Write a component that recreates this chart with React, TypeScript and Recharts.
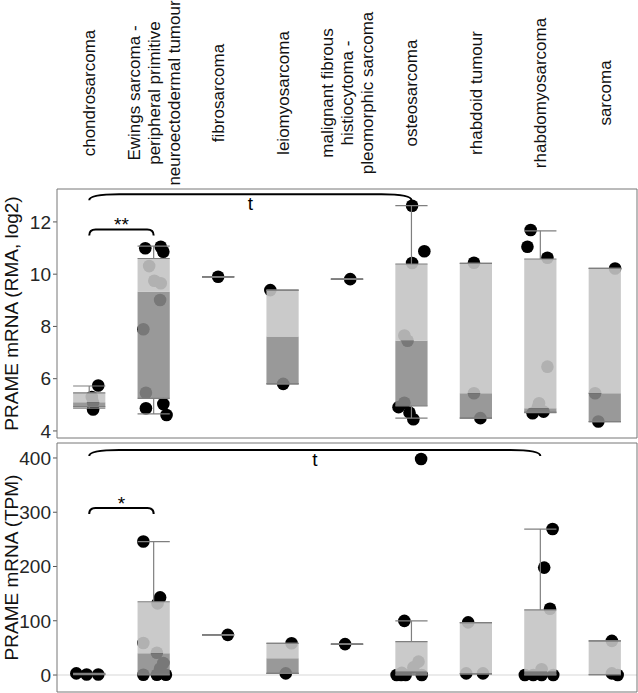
import React from 'react';
import {
  ComposedChart,
  XAxis,
  YAxis,
  Scatter,
  ReferenceArea,
  ReferenceLine,
} from 'recharts';

const categoryLines = [
  ['chondrosarcoma'],
  ['Ewings sarcoma -', 'peripheral primitive', 'neuroectodermal tumour'],
  ['fibrosarcoma'],
  ['leiomyosarcoma'],
  ['malignant fibrous', 'histiocytoma -', 'pleomorphic sarcoma'],
  ['osteosarcoma'],
  ['rhabdoid tumour'],
  ['rhabdomyosarcoma'],
  ['sarcoma'],
];

// top panel: RMA, log2
const rmaLow = [4.87, 4.65, 9.9, 5.8, 9.81, 4.49, 4.49, 4.7, 4.36];
const rmaQ1 = [4.93, 5.25, 9.9, 5.8, 9.81, 4.96, 4.49, 4.72, 4.36];
const rmaMedian = [5.1, 9.33, 9.9, 7.61, 9.81, 7.45, 5.44, 4.87, 5.44];
const rmaQ3 = [5.46, 10.6, 9.9, 9.39, 9.81, 10.39, 10.41, 10.58, 10.22];
const rmaHigh = [5.72, 11.07, 9.9, 9.39, 9.81, 12.62, 10.41, 11.66, 10.22];
// [category, value, jitter]
const rmaPoints = [
  [0, 5.74, 0.14], [0, 4.82, 0.06], [0, 5.3, 0.04], [0, 5.08, 0.06],
  [1, 10.99, -0.13], [1, 11.05, 0.11], [1, 10.86, 0.15], [1, 10.31, -0.07],
  [1, 9.75, 0.01], [1, 9.65, 0.11], [1, 9.01, 0.1], [1, 7.89, -0.16],
  [1, 5.46, -0.12], [1, 4.87, -0.12], [1, 5.03, 0.15], [1, 4.61, 0.2],
  [2, 9.9, 0],
  [3, 9.39, -0.19], [3, 5.8, 0.01],
  [4, 9.81, 0.05],
  [5, 12.62, 0.01], [5, 10.88, 0.2], [5, 10.43, 0.01], [5, 7.65, -0.11],
  [5, 7.45, -0.06], [5, 4.91, -0.2], [5, 5.08, -0.11], [5, 4.7, -0.03], [5, 4.45, 0.03],
  [6, 10.44, -0.03], [6, 5.44, -0.03], [6, 4.49, 0.07],
  [7, 11.69, -0.15], [7, 11.05, -0.2], [7, 10.63, 0.11], [7, 6.46, 0.11],
  [7, 5.06, -0.02], [7, 4.9, -0.04], [7, 4.74, 0.05], [7, 4.68, -0.12],
  [8, 10.22, 0.16], [8, 5.44, -0.15], [8, 4.36, -0.1],
];
const rmaBrackets = [
  { from: 0, to: 1, y: 11.71, label: '**' },
  { from: 0, to: 5, y: 13.06, label: 't' },
];

// bottom panel: TPM
const tpmLow = [0.5, 0, 74, 3, 57, 0, 2, 0, 0.5];
const tpmQ1 = [1, 1, 74, 3, 57, 0.5, 2, 0.5, 0.5];
const tpmMedian = [1.5, 40, 74, 31, 57, 6, 3, 6, 1];
const tpmQ3 = [2, 135, 74, 58.5, 57, 61.5, 96.6, 120, 62.8];
const tpmHigh = [3, 246, 74, 58.5, 57, 99.7, 96.6, 269, 62.8];
const tpmPoints = [
  [0, 3, -0.2], [0, 1, -0.04], [0, 1, 0.14],
  [1, 246, -0.16], [1, 143, 0.1], [1, 132, 0.06], [1, 59, -0.16], [1, 41, 0.05],
  [1, 22, 0.15], [1, 12, 0.1], [1, 0.5, -0.16], [1, 0.5, 0.05], [1, 0.5, 0.19],
  [2, 74, 0.15],
  [3, 58.5, 0.14], [3, 3, 0.05],
  [4, 57, -0.03],
  [5, 398, 0.15], [5, 99.7, -0.11], [5, 24.6, 0.11], [5, 14, 0.03], [5, 4, -0.15],
  [5, 0, -0.23], [5, 0, -0.16], [5, 0, -0.09], [5, 0, 0.16],
  [6, 97, -0.12], [6, 3, -0.15], [6, 3, 0.11],
  [7, 269, 0.19], [7, 198, 0.06], [7, 122, 0.15], [7, 10.5, 0.02],
  [7, 0, -0.24], [7, 0, -0.11], [7, 0, 0.02], [7, 0, 0.2],
  [8, 63, 0.11], [8, 3, 0.11], [8, 0, 0.2],
];
const tpmBrackets = [
  { from: 0, to: 1, y: 307.8, label: '*' },
  { from: 0, to: 7, y: 414.7, label: 't' },
];

const FONT = "'Liberation Sans', Arial, sans-serif";
const BOX_HALF = 0.25;
const xTicks = categoryLines.map((_, i) => i + 0.5);

const CategoryTick = (props: any) => {
  const { x, payload } = props;
  const lines = categoryLines[Math.floor(payload.value)];
  return (
    <g transform={`translate(${x},93) rotate(-90)`}>
      <text textAnchor="middle" fontSize={17} fill="#111" fontFamily={FONT}>
        {lines.map((l, i) => (
          <tspan key={i} x={0} y={(i - (lines.length - 1) / 2) * 20} dy="0.35em">
            {l}
          </tspan>
        ))}
      </text>
    </g>
  );
};

const bracketShape = (label: string, below: boolean) => (p: any) => {
  const { x1, x2, y1 } = p;
  const w = Math.min(30, (x2 - x1) * 0.1);
  const d = `M${x1},${y1 + 6} Q${x1},${y1} ${x1 + w},${y1} L${x2 - w},${y1} Q${x2},${y1} ${x2},${y1 + 6}`;
  return (
    <g>
      <path d={d} fill="none" stroke="#000" strokeWidth={2} />
      <text
        x={(x1 + x2) / 2}
        y={below ? y1 + 16 : y1 + 2}
        textAnchor="middle"
        fontSize={19}
        fontFamily={FONT}
        fill="#000"
      >
        {label}
      </text>
    </g>
  );
};

const yLabel = (text: string) => (props: any) => {
  const { viewBox } = props;
  const cx = 11;
  const cy = viewBox.y + viewBox.height / 2;
  return (
    <text
      transform={`translate(${cx},${cy}) rotate(-90)`}
      textAnchor="middle"
      dy="0.35em"
      fontSize={19}
      fontFamily={FONT}
      fill="#111"
    >
      {text}
    </text>
  );
};

interface PanelProps {
  height: number;
  margin: { top: number; right: number; bottom: number; left: number };
  domain: [number, number];
  ticks: number[];
  label: string;
  low: number[];
  q1: number[];
  median: number[];
  q3: number[];
  high: number[];
  points: number[][];
  brackets: { from: number; to: number; y: number; label: string }[];
  showCategories?: boolean;
  zeroLine?: boolean;
}

function Panel(props: PanelProps) {
  const { domain, low, q1, median, q3, high } = props;
  const data = props.points.map(([c, v, j]) => ({ x: c + 0.5 + j, y: v }));
  const lineStyle = { stroke: '#7f7f7f', strokeWidth: 1.2 };

  return (
    <ComposedChart
      width={638}
      height={props.height}
      margin={props.margin}
      style={{ display: 'block' }}
    >
      <XAxis
        type="number"
        dataKey="x"
        domain={[0, 9]}
        ticks={xTicks}
        interval={0}
        orientation="top"
        height={props.showCategories ? 189 : 0}
        hide={!props.showCategories}
        axisLine={false}
        tickLine={false}
        tick={<CategoryTick />}
        allowDataOverflow
      />
      <YAxis
        type="number"
        dataKey="y"
        domain={domain}
        ticks={props.ticks}
        interval={0}
        width={57}
        axisLine={false}
        tickSize={4}
        tickLine={{ stroke: '#555' }}
        tick={{ fontSize: 19, fill: '#262626', fontFamily: FONT }}
        allowDataOverflow
        label={{ content: yLabel(props.label) }}
      />
      {props.zeroLine && (
        <ReferenceLine y={0} stroke="#e4e4e4" strokeWidth={1.5} zIndex={50} />
      )}
      <Scatter
        data={data}
        isAnimationActive={false}
        zIndex={600}
        shape={(p: any) => <circle cx={p.cx} cy={p.cy} r={6.3} fill="#000" />}
      />
      {q1.map((_, i) => (
        <ReferenceArea
          key={`lo-${i}`}
          x1={i + 0.5 - BOX_HALF}
          x2={i + 0.5 + BOX_HALF}
          y1={q1[i]}
          y2={median[i]}
          fill="#8a8a8a"
          fillOpacity={0.87}
          stroke="none"
          zIndex={700}
        />
      ))}
      {q3.map((_, i) => (
        <ReferenceArea
          key={`hi-${i}`}
          x1={i + 0.5 - BOX_HALF}
          x2={i + 0.5 + BOX_HALF}
          y1={median[i]}
          y2={q3[i]}
          fill="#c4c4c4"
          fillOpacity={0.9}
          stroke="none"
          zIndex={700}
        />
      ))}
      {q3.flatMap((_, i) => {
        const c = i + 0.5;
        const segs = [
          [[c, q3[i]], [c, high[i]]],
          [[c, q1[i]], [c, low[i]]],
          [[c - BOX_HALF, high[i]], [c + BOX_HALF, high[i]]],
          [[c - BOX_HALF, low[i]], [c + BOX_HALF, low[i]]],
          [[c - BOX_HALF, q3[i]], [c + BOX_HALF, q3[i]]],
          [[c - BOX_HALF, q1[i]], [c + BOX_HALF, q1[i]]],
        ];
        return segs.map((s, k) => (
          <ReferenceLine
            key={`w-${i}-${k}`}
            segment={[
              { x: s[0][0], y: s[0][1] },
              { x: s[1][0], y: s[1][1] },
            ]}
            {...lineStyle}
            zIndex={800}
          />
        ));
      })}
      {props.brackets.map((b, i) => (
        <ReferenceLine
          key={`b-${i}`}
          segment={[
            { x: b.from + 0.5, y: b.y },
            { x: b.to + 0.5, y: b.y },
          ]}
          shape={bracketShape(b.label, b.label === 't')}
          zIndex={900}
        />
      ))}
      <ReferenceArea
        x1={0}
        x2={9}
        y1={domain[0]}
        y2={domain[1]}
        fill="none"
        stroke="#777"
        strokeWidth={1}
        zIndex={1000}
      />
    </ComposedChart>
  );
}

export default function App() {
  return (
    <div style={{ width: 638, height: 693, background: '#fff', fontFamily: FONT }}>
      <style>{'body{margin:0}'}</style>
      <Panel
        height={448}
        margin={{ top: 0, right: 1, bottom: 10, left: 0 }}
        domain={[3.73, 13.26]}
        ticks={[4, 6, 8, 10, 12]}
        label="PRAME mRNA (RMA, log2)"
        low={rmaLow}
        q1={rmaQ1}
        median={rmaMedian}
        q3={rmaQ3}
        high={rmaHigh}
        points={rmaPoints}
        brackets={rmaBrackets}
        showCategories
      />
      <div style={{ marginTop: -8, position: 'relative' }}>
        <Panel
          height={253}
          margin={{ top: 3, right: 1, bottom: 1, left: 0 }}
          domain={[-31.3, 427.6]}
          ticks={[0, 100, 200, 300, 400]}
          label="PRAME mRNA (TPM)"
          low={tpmLow}
          q1={tpmQ1}
          median={tpmMedian}
          q3={tpmQ3}
          high={tpmHigh}
          points={tpmPoints}
          brackets={tpmBrackets}
          zeroLine
        />
      </div>
    </div>
  );
}
